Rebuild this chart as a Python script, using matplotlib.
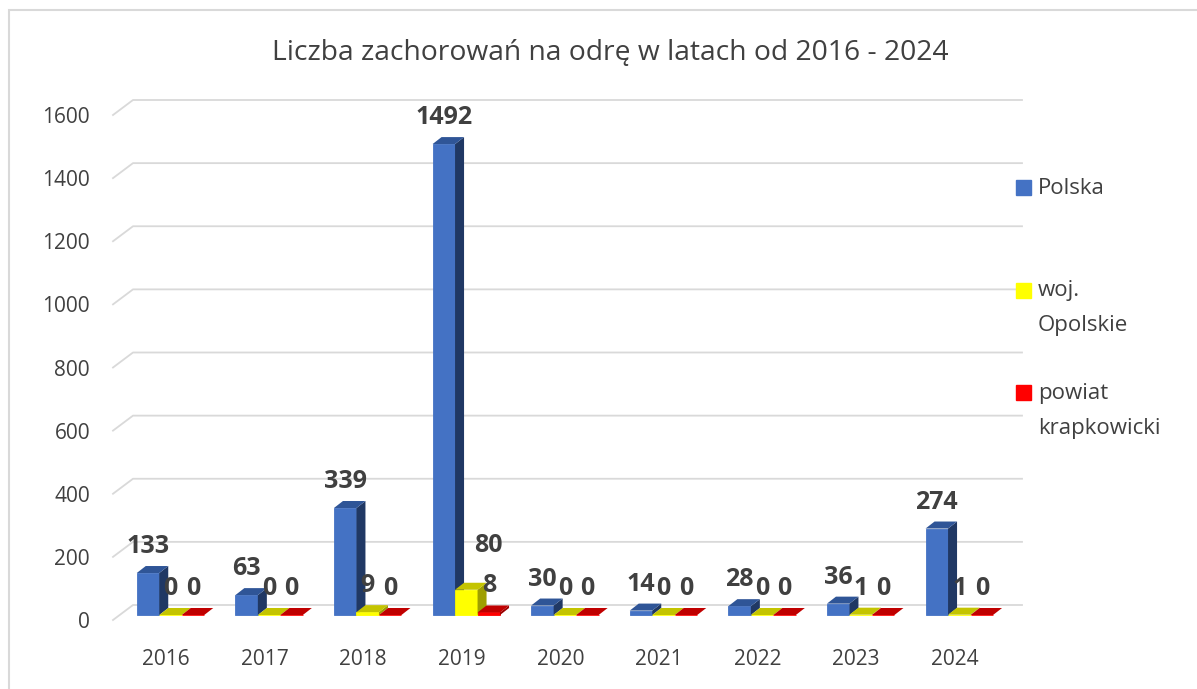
import numpy as np
import matplotlib
matplotlib.use('Agg')
import matplotlib.pyplot as plt
from matplotlib.patches import Polygon, Rectangle

# dane
lata = ['2016', '2017', '2018', '2019', '2020', '2021', '2022', '2023', '2024']
polska = [133, 63, 339, 1492, 30, 14, 28, 36, 274]
opolskie = [0, 0, 9, 80, 0, 0, 0, 1, 1]
krapkowicki = [0, 0, 0, 8, 0, 0, 0, 0, 0]
serie = ['Polska', 'woj.\nOpolskie', 'powiat\nkrapkowicki']
tytul = 'Liczba zachorowań na odrę w latach od 2016 - 2024'

# kolory: przod, gora, bok
kolory = [('#4472C4', '#2F5597', '#203864'),
          ('#FFFF00', '#C4C400', '#9E9E00'),
          ('#FF0000', '#C00000', '#9A0000')]
szary = '#404040'

plt.rcParams['font.family'] = ['Open Sans', 'DejaVu Sans']

W, H = 1197, 689
fig = plt.figure(figsize=(W / 100, H / 100), dpi=100)

# geometria w pikselach
px_x = 98.6      # pikseli na kategorie
px_y = 505 / 1600  # pikseli na jednostke
ax = fig.add_axes([113 / W, (H - 620) / H, (1002 - 113) / W, 505 / H])
x0 = (113 - 166) / px_x
x1 = (1002 - 166) / px_x
ax.set_xlim(x0, x1)
ax.set_ylim(0, 1600)


def dx(p):
    return p / px_x


def dy(p):
    return p / px_y


# siatka na tylnej scianie
for v in range(0, 1601, 200):
    ax.plot([x0, x0 + dx(20), x1 + dx(20)], [v, v + dy(15), v + dy(15)],
            color='#D9D9D9', lw=1.3, clip_on=False, zorder=1)

# slupki 3d
w = dx(22.5)
bx, by = dx(4.5), dy(5)
gx, gy = dx(9), dy(7)
x = np.arange(len(lata))
przesuniecia = {(3, 1): (22.5, 18)}

for k, vals in enumerate([polska, opolskie, krapkowicki]):
    przod, gora, bok = kolory[k]
    bars = ax.bar(x + (k - 1) * w + bx, vals, w, bottom=by, color=przod,
                  edgecolor=przod, lw=0.6)
    for i, r in enumerate(bars):
        z = 3 + i * 10 + k * 3
        r.set_zorder(z)
        l, b = r.get_x(), r.get_y()
        rr, t = l + r.get_width(), b + r.get_height()
        ax.add_patch(Polygon([(rr, b), (rr + gx, b + gy), (rr + gx, t + gy), (rr, t)],
                             closed=True, color=bok, lw=0, zorder=z + 1))
        ax.add_patch(Polygon([(l, t), (rr, t), (rr + gx, t + gy), (l + gx, t + gy)],
                             closed=True, color=gora, lw=0, zorder=z + 2))
        sx, sy = przesuniecia.get((i, k), (0, 0))
        ax.text((l + rr) / 2 + dx(sx), t + gy + dy(13 + sy), str(vals[i]),
                ha='center', va='baseline', fontsize=18, fontweight='bold',
                color=szary, zorder=200)

ax.set_xticks(x, lata)
ax.set_yticks(range(0, 1601, 200))
ax.tick_params(length=0, labelsize=15, colors=szary)
ax.tick_params(axis='x', pad=21)
ax.tick_params(axis='y', pad=16.5)
for s in ax.spines.values():
    s.set_visible(False)
ax.patch.set_visible(False)

# tytul
fig.text(610 / W, 1 - 60 / H, tytul, ha='center', va='baseline',
         fontsize=20.3, color=szary)

# legenda
leg_y = [187, 290, 392]
leg_top = [178, 280, 383]
for k in range(3):
    fig.add_artist(Rectangle((1016 / W, 1 - (leg_y[k] + 7.5) / H), 15 / W, 15 / H,
                             transform=fig.transFigure, color=kolory[k][0]))
    fig.text(1038 / W, 1 - leg_top[k] / H, serie[k], ha='left', va='top',
             fontsize=16, color=szary, linespacing=1.9)

# ramka wykresu
fig.add_artist(Rectangle((9 / W, -0.1), 1.2, 1.1 - 10 / H, transform=fig.transFigure,
                         fill=False, edgecolor='#D9D9D9', lw=1.5))

fig.savefig('out.png', dpi=100)
